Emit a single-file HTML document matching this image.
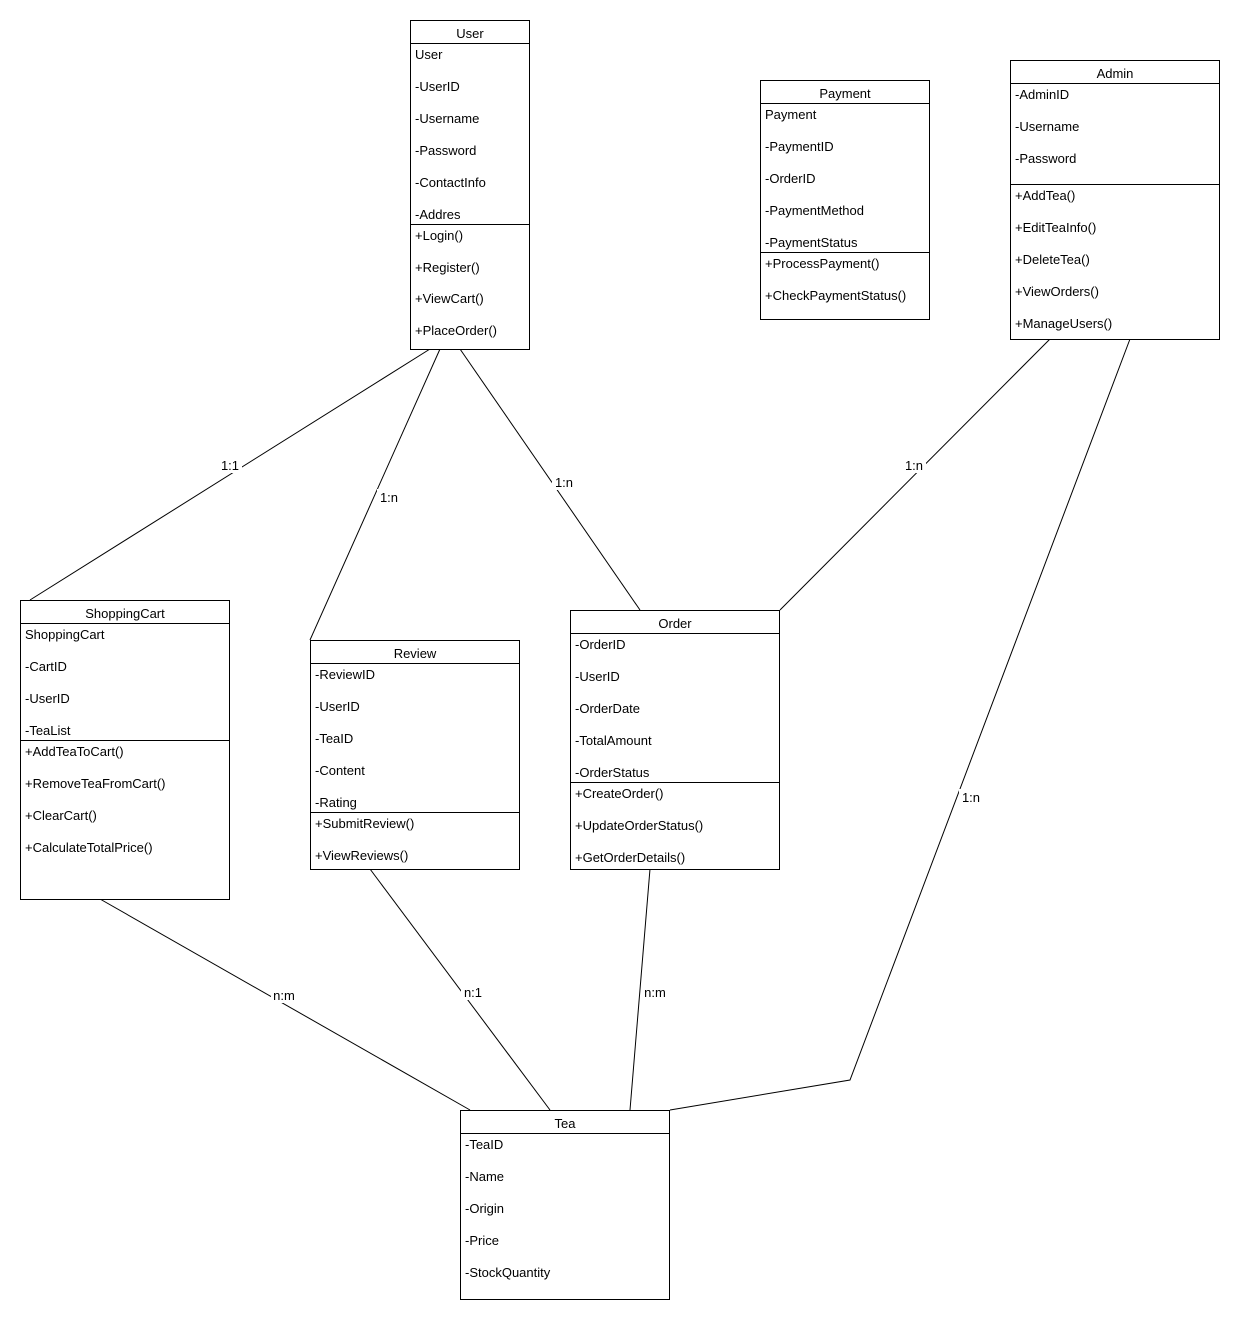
<!DOCTYPE html>
<html><head><meta charset="utf-8"><style>
html,body{margin:0;padding:0;background:#fff;}
svg{display:block;font-family:"Liberation Sans",Arial,sans-serif;font-size:13px;}
</style></head><body>
<svg width="1240" height="1320" viewBox="0 0 1240 1320" xmlns="http://www.w3.org/2000/svg">
<rect width="1240" height="1320" fill="#fff"/>
<g stroke="#000" stroke-width="1" fill="none">
<line x1="430" y1="349" x2="30" y2="600"/>
<line x1="440" y1="349" x2="310" y2="640"/>
<line x1="460" y1="349" x2="640" y2="610"/>
<line x1="1050" y1="339" x2="780" y2="610"/>
<polyline points="1130,339 850,1080 670,1110"/>
<line x1="100" y1="899" x2="470" y2="1110"/>
<line x1="370" y1="869" x2="550" y2="1110"/>
<line x1="650" y1="869" x2="630" y2="1110"/>
</g>
<g fill="#000" text-anchor="middle">
<rect x="218" y="457" width="24" height="16" fill="#fff"/><text x="230" y="470">1:1</text>
<rect x="377" y="489" width="24" height="16" fill="#fff"/><text x="389" y="502">1:n</text>
<rect x="552" y="474" width="24" height="16" fill="#fff"/><text x="564" y="487">1:n</text>
<rect x="902" y="457" width="24" height="16" fill="#fff"/><text x="914" y="470">1:n</text>
<rect x="959" y="789" width="24" height="16" fill="#fff"/><text x="971" y="802">1:n</text>
<rect x="271" y="987" width="26" height="16" fill="#fff"/><text x="284" y="1000">n:m</text>
<rect x="461" y="984" width="24" height="16" fill="#fff"/><text x="473" y="997">n:1</text>
<rect x="642" y="984" width="26" height="16" fill="#fff"/><text x="655" y="997">n:m</text>
</g>
<g stroke="#000" fill="#fff">
<rect x="410.5" y="20.5" width="119" height="329"/><line x1="410" y1="43.5" x2="530" y2="43.5"/><line x1="410" y1="224.5" x2="530" y2="224.5"/>
<rect x="760.5" y="80.5" width="169" height="239"/><line x1="760" y1="103.5" x2="930" y2="103.5"/><line x1="760" y1="252.5" x2="930" y2="252.5"/>
<rect x="1010.5" y="60.5" width="209" height="279"/><line x1="1010" y1="83.5" x2="1220" y2="83.5"/><line x1="1010" y1="184.5" x2="1220" y2="184.5"/>
<rect x="20.5" y="600.5" width="209" height="299"/><line x1="20" y1="623.5" x2="230" y2="623.5"/><line x1="20" y1="740.5" x2="230" y2="740.5"/>
<rect x="310.5" y="640.5" width="209" height="229"/><line x1="310" y1="663.5" x2="520" y2="663.5"/><line x1="310" y1="812.5" x2="520" y2="812.5"/>
<rect x="570.5" y="610.5" width="209" height="259"/><line x1="570" y1="633.5" x2="780" y2="633.5"/><line x1="570" y1="782.5" x2="780" y2="782.5"/>
<rect x="460.5" y="1110.5" width="209" height="189"/><line x1="460" y1="1133.5" x2="670" y2="1133.5"/>
</g>
<g fill="#000" text-anchor="middle">
<text x="470" y="38">User</text>
<text x="845" y="98">Payment</text>
<text x="1115" y="78">Admin</text>
<text x="125" y="618">ShoppingCart</text>
<text x="415" y="658">Review</text>
<text x="675" y="628">Order</text>
<text x="565" y="1128">Tea</text>
</g>
<g fill="#000">
<text x="415" y="59">User</text><text x="415" y="91">-UserID</text><text x="415" y="123">-Username</text><text x="415" y="155">-Password</text><text x="415" y="187">-ContactInfo</text><text x="415" y="219">-Addres</text>
<text x="415" y="240">+Login()</text><text x="415" y="272">+Register()</text><text x="415" y="303">+ViewCart()</text><text x="415" y="335">+PlaceOrder()</text>
<text x="765" y="119">Payment</text><text x="765" y="151">-PaymentID</text><text x="765" y="183">-OrderID</text><text x="765" y="215">-PaymentMethod</text><text x="765" y="247">-PaymentStatus</text>
<text x="765" y="268">+ProcessPayment()</text><text x="765" y="300">+CheckPaymentStatus()</text>
<text x="1015" y="99">-AdminID</text><text x="1015" y="131">-Username</text><text x="1015" y="163">-Password</text>
<text x="1015" y="200">+AddTea()</text><text x="1015" y="232">+EditTeaInfo()</text><text x="1015" y="264">+DeleteTea()</text><text x="1015" y="296">+ViewOrders()</text><text x="1015" y="328">+ManageUsers()</text>
<text x="25" y="639">ShoppingCart</text><text x="25" y="671">-CartID</text><text x="25" y="703">-UserID</text><text x="25" y="735">-TeaList</text>
<text x="25" y="756">+AddTeaToCart()</text><text x="25" y="788">+RemoveTeaFromCart()</text><text x="25" y="820">+ClearCart()</text><text x="25" y="852">+CalculateTotalPrice()</text>
<text x="315" y="679">-ReviewID</text><text x="315" y="711">-UserID</text><text x="315" y="743">-TeaID</text><text x="315" y="775">-Content</text><text x="315" y="807">-Rating</text>
<text x="315" y="828">+SubmitReview()</text><text x="315" y="860">+ViewReviews()</text>
<text x="575" y="649">-OrderID</text><text x="575" y="681">-UserID</text><text x="575" y="713">-OrderDate</text><text x="575" y="745">-TotalAmount</text><text x="575" y="777">-OrderStatus</text>
<text x="575" y="798">+CreateOrder()</text><text x="575" y="830">+UpdateOrderStatus()</text><text x="575" y="862">+GetOrderDetails()</text>
<text x="465" y="1149">-TeaID</text><text x="465" y="1181">-Name</text><text x="465" y="1213">-Origin</text><text x="465" y="1245">-Price</text><text x="465" y="1277">-StockQuantity</text>
</g>
</svg>
</body></html>
